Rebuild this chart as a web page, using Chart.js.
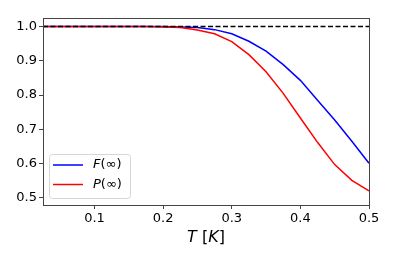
<!DOCTYPE html>
<html>
<head>
<meta charset="utf-8">
<script src="https://cdn.jsdelivr.net/npm/chart.js@4"></script>
<style>
  html, body { margin: 0; padding: 0; background: #fff; }
  #wrap { width: 395px; height: 263px; }
</style>
</head>
<body>
<div id="wrap"><canvas id="c" width="395" height="263"></canvas></div>
<script>
const temps = [0.025, 0.05, 0.075, 0.1, 0.125, 0.15, 0.175, 0.2, 0.225, 0.25,
               0.275, 0.3, 0.325, 0.35, 0.375, 0.4, 0.425, 0.45, 0.475, 0.5];
const fInf = [1.0, 1.0, 1.0, 1.0, 1.0, 1.0, 1.0, 1.0, 0.999, 0.997,
              0.991, 0.979, 0.957, 0.928, 0.889, 0.843, 0.785, 0.727, 0.665, 0.601];
const pInf = [1.0, 1.0, 1.0, 1.0, 1.0, 1.0, 1.0, 0.999, 0.997, 0.990,
              0.979, 0.956, 0.918, 0.868, 0.805, 0.733, 0.662, 0.597, 0.551, 0.520];
const refLine = [1.0, 1.0];
const xTicks = [0.1, 0.2, 0.3, 0.4, 0.5];
const yTicks = [0.5, 0.6, 0.7, 0.8, 0.9, 1.0];

const pts = (xs, ys) => xs.map((x, i) => ({ x: x, y: ys[i] }));

const axisColor = "#444";
const tickFont = { family: "DejaVu Sans", size: 13 };

// frame, legend and axis title, drawn by hand
const extras = {
  id: "extras",
  afterDatasetsDraw(chart) {
    const { ctx, chartArea: a } = chart;
    ctx.save();
    ctx.strokeStyle = axisColor;
    ctx.lineWidth = 1;
    ctx.strokeRect(a.left + 0.5, a.top + 0.5, a.right - a.left, a.bottom - a.top);

    // legend
    ctx.beginPath();
    ctx.roundRect(49.5, 154.5, 81, 44, 3);
    ctx.fillStyle = "rgba(255,255,255,0.8)";
    ctx.fill();
    ctx.strokeStyle = "#d6d6d6";
    ctx.stroke();
    const rows = [["F", "blue", 165], ["P", "red", 184.5]];
    rows.forEach(([letter, color, y]) => {
      ctx.beginPath();
      ctx.moveTo(53, y);
      ctx.lineTo(83, y);
      ctx.strokeStyle = color;
      ctx.lineWidth = 1.5;
      ctx.stroke();
      ctx.fillStyle = "#000";
      ctx.textBaseline = "middle";
      ctx.textAlign = "left";
      ctx.font = "italic 13px 'DejaVu Sans'";
      ctx.fillText(letter, 93, y);
      const w = ctx.measureText(letter).width;
      ctx.font = "13px 'DejaVu Sans'";
      ctx.fillText("(\u221e)", 93 + w, y);
    });

    // x axis title: T [K]
    const parts = [["T", true], [" [", false], ["K", true], ["]", false]];
    ctx.textBaseline = "alphabetic";
    let total = 0;
    parts.forEach(([s, it]) => {
      ctx.font = (it ? "italic " : "") + "16px 'DejaVu Sans'";
      total += ctx.measureText(s).width;
    });
    let x = (a.left + a.right) / 2 - total / 2;
    parts.forEach(([s, it]) => {
      ctx.font = (it ? "italic " : "") + "16px 'DejaVu Sans'";
      ctx.fillText(s, x, 242);
      x += ctx.measureText(s).width;
    });
    ctx.restore();
  }
};

new Chart(document.getElementById("c"), {
  type: "line",
  data: {
    datasets: [
      {
        data: pts([temps[0], temps[temps.length - 1]], refLine),
        borderColor: "#000",
        borderWidth: 1.4,
        borderDash: [5, 2.5],
        pointRadius: 0
      },
      {
        data: pts(temps, pInf),
        borderColor: "red",
        borderWidth: 1.5,
        pointRadius: 0
      },
      {
        data: pts(temps, fInf),
        borderColor: "blue",
        borderWidth: 1.5,
        pointRadius: 0
      }
    ]
  },
  options: {
    responsive: false,
    animation: false,
    layout: { padding: { left: 0, top: 18, right: 26, bottom: 0 } },
    plugins: { legend: { display: false }, tooltip: { enabled: false } },
    scales: {
      x: {
        type: "linear",
        min: 0.025,
        max: 0.5,
        afterBuildTicks: (s) => { s.ticks = xTicks.map(v => ({ value: v })); },
        afterFit: (s) => { s.height = 58; },
        grid: { drawOnChartArea: false, tickLength: 4, color: axisColor },
        border: { color: axisColor },
        ticks: {
          font: tickFont, color: "#000", padding: 2, maxRotation: 0,
          callback: (v) => v.toFixed(1)
        }
      },
      y: {
        min: 0.479,
        max: 1.025,
        afterBuildTicks: (s) => { s.ticks = yTicks.map(v => ({ value: v })); },
        afterFit: (s) => { s.width = 43; },
        grid: { drawOnChartArea: false, tickLength: 4, color: axisColor },
        border: { color: axisColor },
        ticks: {
          font: tickFont, color: "#000", padding: 2,
          callback: (v) => v.toFixed(1)
        }
      }
    }
  },
  plugins: [extras]
});
</script>
</body>
</html>
